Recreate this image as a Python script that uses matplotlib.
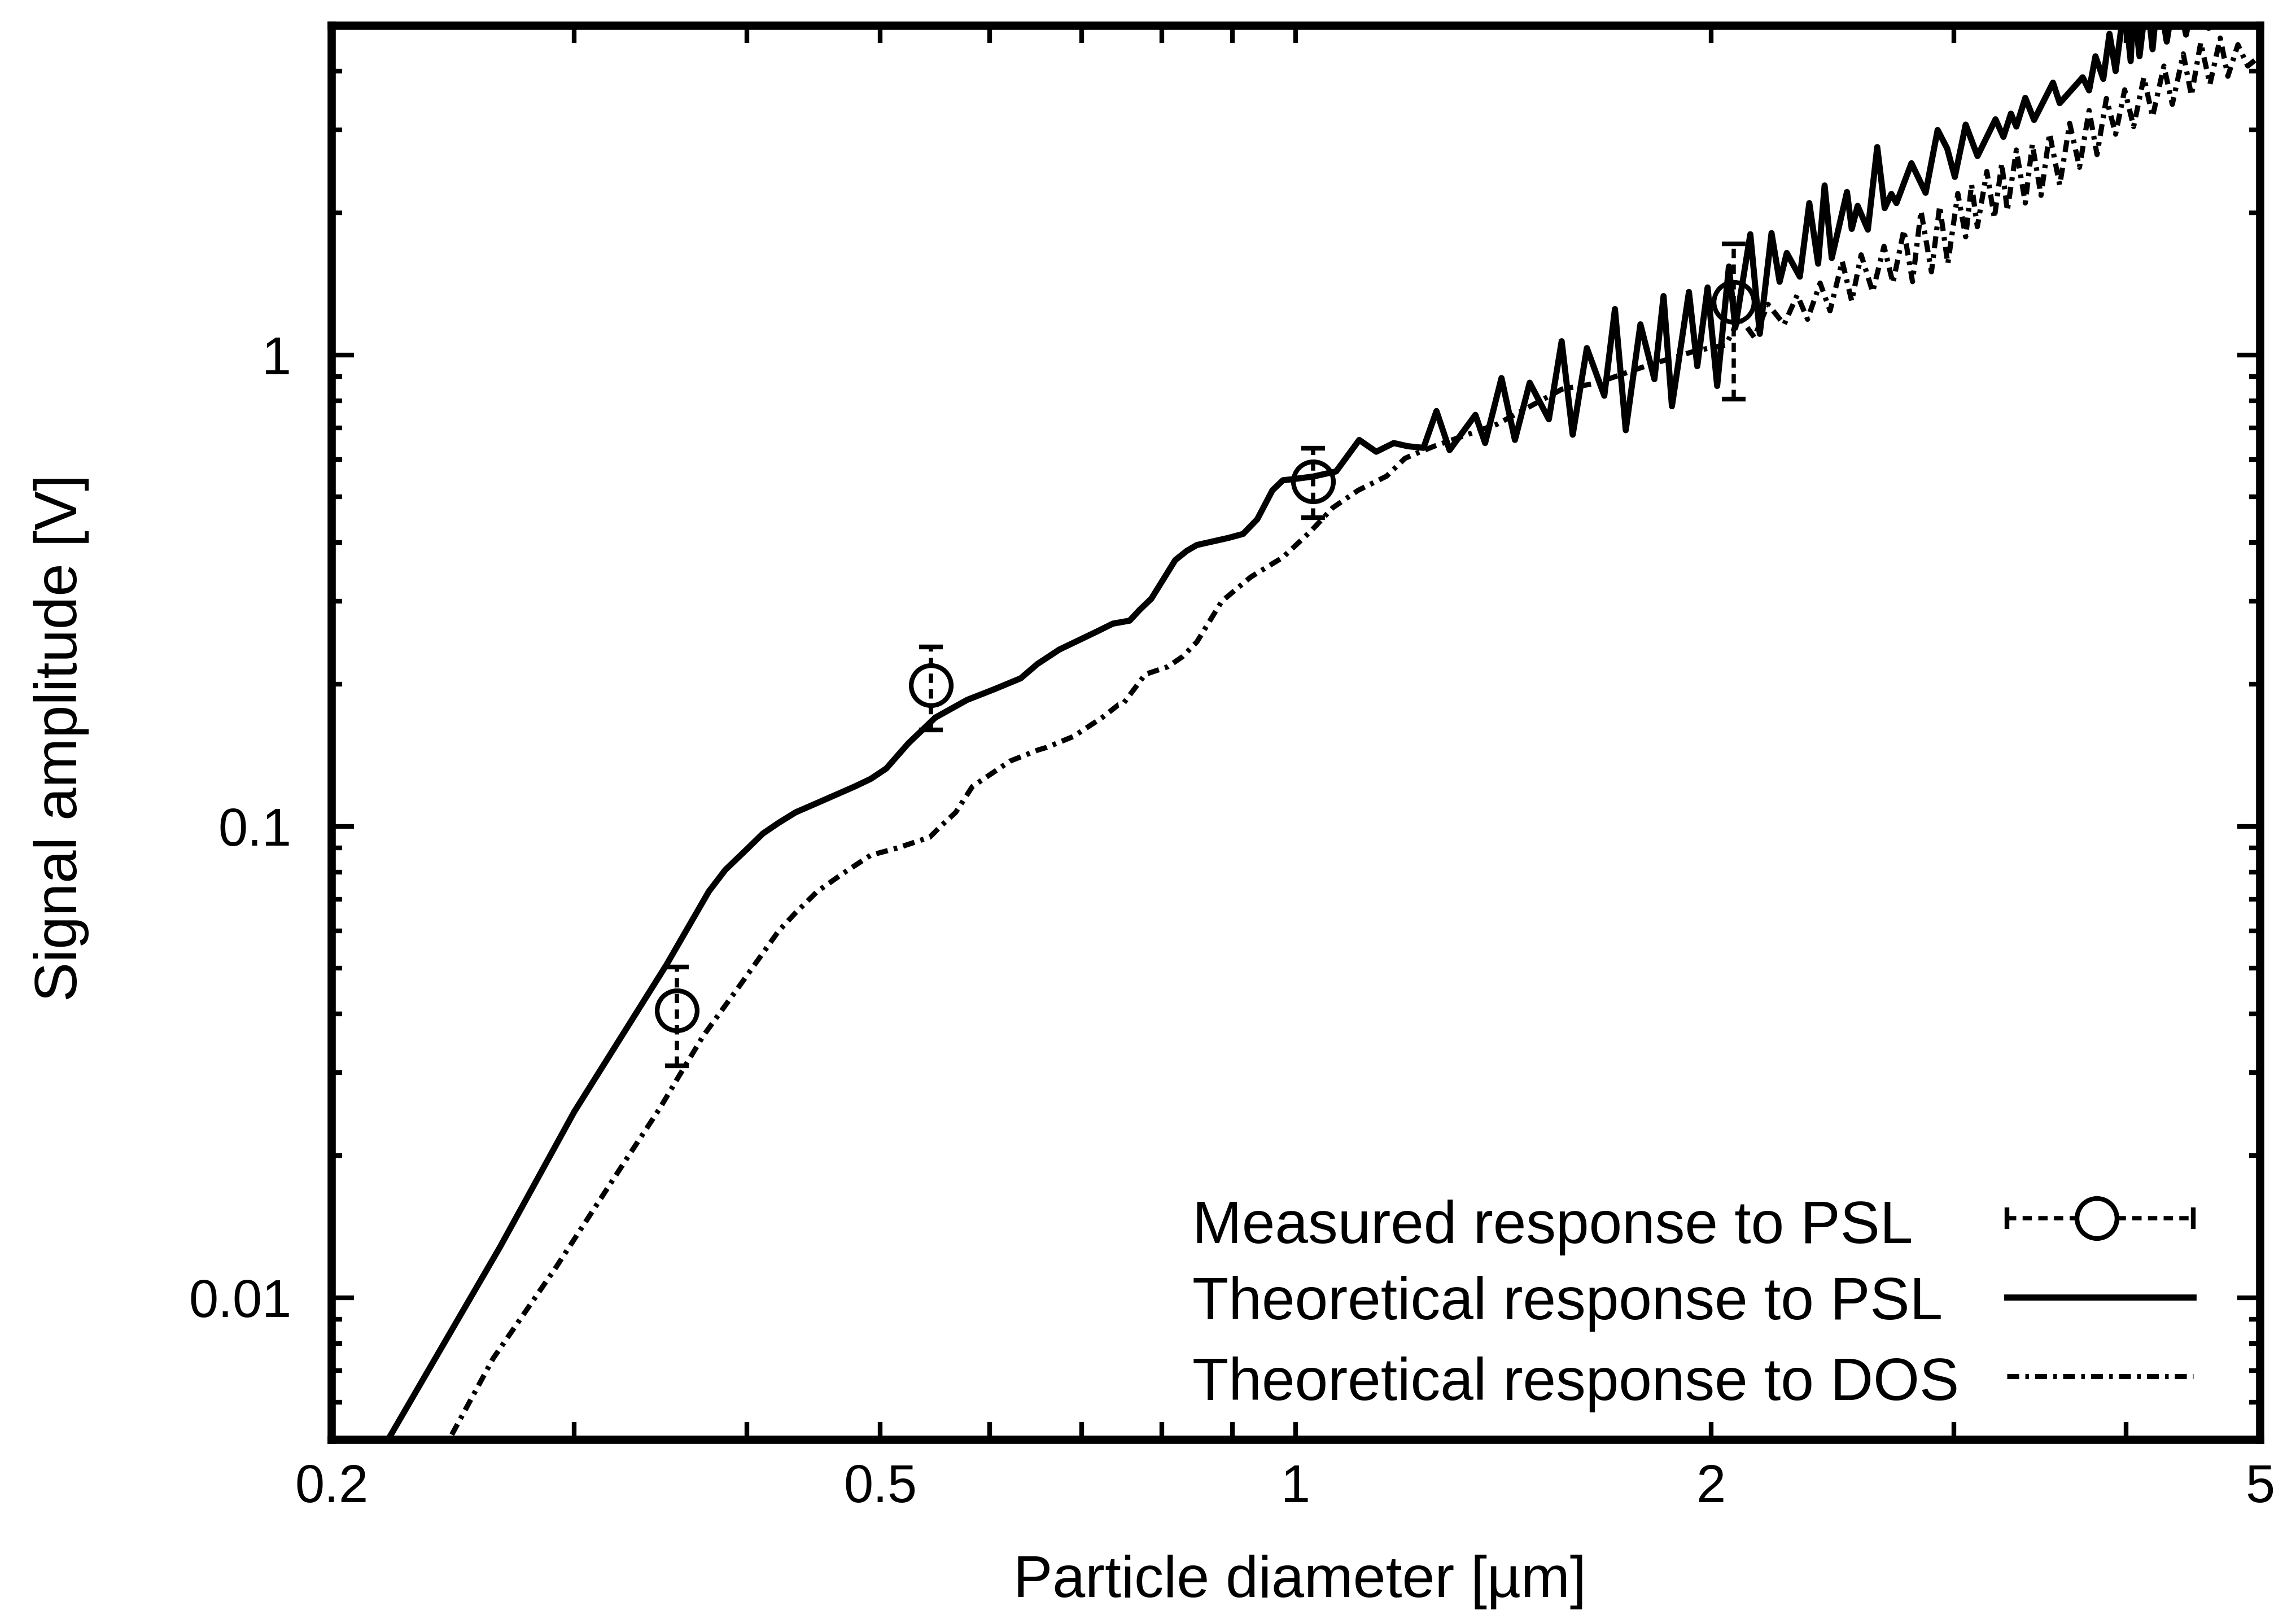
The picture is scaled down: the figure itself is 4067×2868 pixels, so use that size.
import matplotlib
matplotlib.use("Agg")
import matplotlib.pyplot as plt
from matplotlib.ticker import FixedLocator, NullLocator, NullFormatter

plt.rcParams['font.family'] = ['Liberation Sans', 'DejaVu Sans']

# ---------------- data ----------------
# Theoretical response to PSL (solid)
psl_d = [0.210, 0.219, 0.265, 0.300, 0.350, 0.3755, 0.386, 0.400, 0.411, 0.422,
         0.434, 0.453, 0.479, 0.492, 0.505, 0.524, 0.548, 0.578, 0.604, 0.632,
         0.650, 0.674, 0.718, 0.737, 0.758, 0.771, 0.786, 0.818, 0.834, 0.848,
         0.894, 0.916, 0.938, 0.962, 0.979, 0.996, 1.03, 1.070, 1.112, 1.144,
         1.178, 1.206, 1.238, 1.265, 1.293, 1.350, 1.372, 1.410, 1.442, 1.478,
         1.526, 1.559, 1.588, 1.626, 1.674, 1.704, 1.735, 1.778, 1.820, 1.848,
         1.874, 1.928, 1.955, 1.989, 2.021, 2.061, 2.083, 2.136, 2.170, 2.213,
         2.243, 2.270, 2.320, 2.357, 2.392, 2.418, 2.447, 2.510, 2.530, 2.555,
         2.599, 2.640, 2.673, 2.703, 2.726, 2.795, 2.862, 2.920, 2.967, 3.005,
         3.060, 3.121, 3.216, 3.259, 3.300, 3.330, 3.380, 3.430, 3.540, 3.580,
         3.720, 3.760, 3.800, 3.850, 3.890, 3.930, 3.990, 4.030, 4.050, 4.090,
         4.140, 4.180, 4.220, 4.280, 4.350, 4.420, 4.500, 4.590, 4.700, 4.800,
         5.000]
psl_v = [0.0040, 0.0049, 0.0128, 0.0248, 0.0509, 0.0727, 0.0808, 0.0893, 0.0965, 0.1017,
         0.107, 0.113, 0.1214, 0.126, 0.1326, 0.150, 0.170, 0.1854, 0.195, 0.206,
         0.221, 0.237, 0.259, 0.269, 0.273, 0.288, 0.304, 0.367, 0.384, 0.395,
         0.409, 0.417, 0.448, 0.516, 0.542, 0.545, 0.552, 0.566, 0.660, 0.623,
         0.650, 0.640, 0.635, 0.760, 0.628, 0.746, 0.650, 0.893, 0.660, 0.873,
         0.730, 1.069, 0.677, 1.034, 0.819, 1.251, 0.692, 1.161, 0.888, 1.333,
         0.778, 1.360, 0.946, 1.390, 0.859, 1.540, 1.142, 1.803, 1.108, 1.813,
         1.429, 1.645, 1.465, 2.099, 1.561, 2.288, 1.605, 2.216, 1.850, 2.071,
         1.844, 2.760, 2.048, 2.195, 2.099, 2.550, 2.207, 3.000, 2.740, 2.385,
         3.080, 2.641, 3.160, 2.900, 3.250, 3.050, 3.510, 3.150, 3.780, 3.420,
         3.880, 3.640, 4.300, 3.850, 4.800, 4.000, 5.600, 4.200, 5.600, 4.300,
         5.800, 4.450, 6.000, 4.620, 6.200, 4.780, 6.500, 4.940, 7.000, 5.300,
         6.000]

# Theoretical response to DOS (dash-dot)
dos_d = [0.235, 0.243, 0.262, 0.291, 0.327, 0.346, 0.356, 0.372, 0.396, 0.422,
         0.434, 0.450, 0.470, 0.492, 0.515, 0.543, 0.553, 0.567, 0.583, 0.621,
         0.650, 0.660, 0.690, 0.724, 0.744, 0.750, 0.778, 0.808, 0.828, 0.848,
         0.884, 0.928, 0.979, 1.026, 1.064, 1.110, 1.164, 1.200, 1.220, 1.260,
         1.400, 1.560, 1.650, 1.800, 1.950, 2.050, 2.100, 2.150,
         2.200, 2.260, 2.310, 2.350, 2.400, 2.440, 2.490, 2.530, 2.570, 2.620,
         2.670, 2.710, 2.760, 2.800, 2.840, 2.890, 2.930, 2.970, 3.020, 3.060,
         3.090, 3.120, 3.170, 3.210, 3.250, 3.280, 3.330, 3.380, 3.420, 3.470,
         3.520, 3.580, 3.640, 3.700, 3.760, 3.810, 3.870, 3.930, 3.990, 4.050,
         4.120, 4.180, 4.260, 4.320, 4.400, 4.460, 4.530, 4.600, 4.680, 4.740,
         4.820, 4.900, 5.000]
dos_v = [0.0040, 0.00495, 0.00743, 0.0116, 0.0196, 0.0252, 0.0290, 0.0359, 0.0462, 0.0600,
         0.0655, 0.0727, 0.0795, 0.0868, 0.090, 0.0948, 0.100, 0.107, 0.1214, 0.1375,
         0.145, 0.147, 0.155, 0.170, 0.181, 0.182, 0.210, 0.218, 0.229, 0.246,
         0.300, 0.338, 0.372, 0.423, 0.474, 0.516, 0.553, 0.603, 0.616, 0.640,
         0.713, 0.846, 0.870, 0.950, 1.020, 1.050, 1.200, 1.090,
         1.280, 1.160, 1.340, 1.190, 1.420, 1.240, 1.580, 1.300, 1.630, 1.360,
         1.700, 1.420, 1.840, 1.430, 2.020, 1.500, 2.070, 1.560, 2.200, 1.780,
         2.300, 1.870, 2.450, 1.950, 2.550, 2.020, 2.720, 2.100, 2.800, 2.180,
         2.950, 2.290, 3.100, 2.500, 3.300, 2.660, 3.500, 2.940, 3.650, 3.050,
         3.880, 3.200, 4.100, 3.400, 4.350, 3.550, 4.600, 3.750, 4.700, 3.900,
         4.550, 4.100, 4.300]

# Measured response to PSL (circles with error bars)
meas_d = [0.356, 0.544, 1.03, 2.078]
meas_v = [0.0407, 0.199, 0.538, 1.294]
meas_lo = [0.0310, 0.160, 0.451, 0.806]
meas_hi = [0.0503, 0.240, 0.633, 1.72]

x_ticks = [0.2, 0.3, 0.4, 0.5, 0.6, 0.7, 0.8, 0.9, 1, 2, 3, 4, 5]
x_tick_labels = ['0.2', '', '', '0.5', '', '', '', '', '1', '2', '', '', '5']
y_ticks = [0.01, 0.1, 1]
y_tick_labels = ['0.01', '0.1', '1']
y_minor_ticks = [0.005, 0.006, 0.007, 0.008, 0.009,
                 0.02, 0.03, 0.04, 0.05, 0.06, 0.07, 0.08, 0.09,
                 0.2, 0.3, 0.4, 0.5, 0.6, 0.7, 0.8, 0.9,
                 2, 3, 4, 5]
legend_labels = ['Measured response to PSL',
                 'Theoretical response to PSL',
                 'Theoretical response to DOS']

# ---------------- figure ----------------
W, H = 4067, 2868
fig = plt.figure(figsize=(W / 300, H / 300), dpi=300)
ax = fig.add_axes([587 / W, (H - 2550) / H, 3416 / W, 2505 / H])
ax.set_xscale('log')
ax.set_yscale('log')
ax.set_xlim(0.2, 5)
ax.set_ylim(0.005, 5)

dos_style = (0, (2.3, 1.2, 0.7, 1.2))
meas_style = (0, (2.2, 1.5))

ax.plot(psl_d, psl_v, color='black', lw=2.6, solid_joinstyle='round',
        solid_capstyle='round')
ax.plot(dos_d, dos_v, color='black', lw=2.2, linestyle=dos_style)

lo_err = [v - l for v, l in zip(meas_v, meas_lo)]
hi_err = [h - v for v, h in zip(meas_v, meas_hi)]
eb = ax.errorbar(meas_d, meas_v, yerr=[lo_err, hi_err], fmt='o', mfc='none',
                 mec='black', ms=17, mew=2.0, ecolor='black', elinewidth=1.8,
                 capsize=5, capthick=2.0, zorder=5)
for bl in eb[2]:
    bl.set_linestyle(meas_style)

# ticks
ax.xaxis.set_major_locator(FixedLocator(x_ticks))
ax.set_xticklabels(x_tick_labels)
ax.xaxis.set_minor_locator(NullLocator())
ax.yaxis.set_major_locator(FixedLocator(y_ticks))
ax.set_yticklabels(y_tick_labels)
ax.yaxis.set_minor_locator(FixedLocator(y_minor_ticks))
ax.yaxis.set_minor_formatter(NullFormatter())

ax.tick_params(which='both', direction='in', top=True, right=True, width=2.0,
               labelsize=22.5)
ax.tick_params(axis='x', which='major', length=7.5, pad=10)
ax.tick_params(axis='y', which='major', length=9.5, pad=17)
ax.tick_params(axis='y', which='minor', length=4.5)
for sp in ax.spines.values():
    sp.set_linewidth(3.5)

ax.set_xlabel('Particle diameter [µm]', fontsize=25)
ax.set_ylabel('Signal amplitude [V]', fontsize=25.2)
ax.xaxis.set_label_coords(0.5023, -0.0814)
ax.yaxis.set_label_coords(-0.1256, 0.4962)

# ---------------- key (gnuplot style: text left, sample right) ----------------
tx = 0.4464
base_y = [0.1389, 0.0850, 0.0279]
samp_y = [0.1565, 0.1006, 0.0447]
sx0, sx1, scx = 0.8689, 0.9654, 0.9154
for lab, by in zip(legend_labels, base_y):
    ax.text(tx, by, lab, transform=ax.transAxes, fontsize=25.3,
            ha='left', va='baseline')
tr = ax.transAxes
ax.plot([sx0, sx1], [samp_y[0]] * 2, transform=tr, color='black', lw=1.8,
        linestyle=meas_style, clip_on=False)
for xe in (sx0, sx1):
    ax.plot([xe, xe], [samp_y[0] - 0.006, samp_y[0] + 0.006], transform=tr,
            color='black', lw=2.0, clip_on=False)
ax.plot([scx], [samp_y[0]], transform=tr, marker='o', mfc='white', mec='black',
        ms=17, mew=2.0, clip_on=False)
ax.plot([sx0, sx1], [samp_y[1]] * 2, transform=tr, color='black', lw=2.6,
        clip_on=False)
ax.plot([sx0, sx1], [samp_y[2]] * 2, transform=tr, color='black', lw=2.2,
        linestyle=dos_style, clip_on=False)

fig.savefig('out.png', dpi=300)
